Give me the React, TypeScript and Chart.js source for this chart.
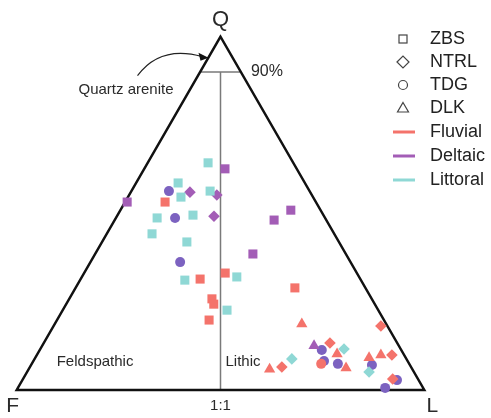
import React, { useEffect, useRef } from 'react';
import { Chart, registerables } from 'chart.js';
Chart.register(...registerables);

// Ternary data as [Q%, L%] pairs (F = 100 - Q - L)
const fluvialZBS = [[53.2, 9.8], [33.1, 34.6], [31.4, 29.3], [25.8, 35.0], [24.3, 36.2], [19.8, 37.3], [28.9, 53.8]];
const fluvialNTRL = [[13.3, 70.2], [6.5, 61.8], [18.1, 80.3], [9.9, 87.1], [3.1, 90.7]];
const fluvialTDG = [[7.4, 71.0]];
const fluvialDLK = [[18.7, 60.6], [10.2, 73.5], [6.2, 77.7], [5.9, 59.1], [9.1, 81.9], [9.9, 84.4]];
const deltaicZBS = [[62.6, 19.8], [53.2, 0.5], [38.5, 38.7], [50.9, 41.8], [48.1, 39.1]];
const deltaicNTRL = [[56.0, 14.5], [55.2, 21.5], [49.2, 23.8]];
const deltaicTDG = [[56.3, 9.2], [48.7, 14.5], [36.2, 22.0], [11.3, 69.2], [8.2, 71.3], [7.4, 75.1], [7.1, 83.6], [2.8, 91.9], [0.6, 90.1]];
const deltaicDLK = [[12.5, 66.7]];
const littoralZBS = [[64.3, 14.8], [58.6, 10.3], [54.6, 13.0], [56.3, 19.3], [48.7, 10.1], [49.5, 18.5], [44.2, 11.1], [41.9, 20.8], [31.1, 25.7], [32.0, 38.0], [22.6, 40.3]];
const littoralNTRL = [[8.8, 63.1], [11.6, 74.5], [5.1, 83.9]];

const formations = ['ZBS', 'NTRL', 'TDG', 'DLK'];
const environments = ['Fluvial', 'Deltaic', 'Littoral'];
const envColors = ['#F4736B', '#A35DB6', '#8FD8D5'];
const tdgDeltaicColor = '#7C62C0';

const H = Math.sqrt(3) / 2;
const toXY = (pairs: number[][]) => pairs.map(([q, l]) => ({ x: l + q / 2, y: q * H }));

const styleFor: Record<string, { pointStyle: any; pointRadius: number }> = {
  ZBS: { pointStyle: 'rect', pointRadius: 6.4 },
  NTRL: { pointStyle: 'rectRot', pointRadius: 5.8 },
  TDG: { pointStyle: 'circle', pointRadius: 5 },
  DLK: { pointStyle: 'triangle', pointRadius: 6.5 },
};

const FONT = '"Liberation Sans", Arial, sans-serif';

function mk(label: string, pairs: number[][], form: string, color: string) {
  return {
    label,
    data: toXY(pairs),
    backgroundColor: color,
    borderWidth: 0,
    pointBorderWidth: 0,
    pointHoverRadius: styleFor[form].pointRadius,
    showLine: false,
    clip: false as any,
    ...styleFor[form],
  };
}

const ternaryPlugin = {
  id: 'ternary',
  beforeDatasetsDraw(chart: any) {
    const { ctx, scales } = chart;
    const sx = scales.x, sy = scales.y;
    const P = (q: number, l: number) => [sx.getPixelForValue(l + q / 2), sy.getPixelForValue(q * H)];
    const [ax, ay] = P(100, 0);
    const [fx, fy] = P(0, 0);
    const [lx, ly] = P(0, 100);
    ctx.save();
    // 90% line and 1:1 line
    const [h1x, h1y] = P(90, 0);
    const [h2x, h2y] = P(90, 10);
    ctx.strokeStyle = '#7a7a7a';
    ctx.lineWidth = 1.5;
    ctx.beginPath();
    ctx.moveTo(h1x, h1y);
    ctx.lineTo(h2x, h2y);
    const [mx, my] = P(90, 5);
    const [bx, by] = P(0, 50);
    ctx.moveTo(mx, my);
    ctx.lineTo(bx, by);
    ctx.stroke();
    // triangle
    ctx.strokeStyle = '#111';
    ctx.lineWidth = 2.5;
    ctx.lineJoin = 'miter';
    ctx.beginPath();
    ctx.moveTo(ax, ay);
    ctx.lineTo(fx, fy);
    ctx.lineTo(lx, ly);
    ctx.closePath();
    ctx.stroke();
    // arrow
    const x0 = ax - 83, y0 = ay + 39;
    const x1 = ax - 12, y1 = ay + 21;
    ctx.strokeStyle = '#222';
    ctx.lineWidth = 1.2;
    ctx.beginPath();
    ctx.moveTo(x0, y0);
    ctx.quadraticCurveTo(ax - 60, ay + 8, x1 - 6, y1 - 1);
    ctx.stroke();
    ctx.fillStyle = '#111';
    ctx.beginPath();
    ctx.moveTo(x1, y1);
    ctx.lineTo(x1 - 10, y1 - 5);
    ctx.lineTo(x1 - 8, y1 + 3);
    ctx.closePath();
    ctx.fill();
    // texts
    ctx.fillStyle = '#2a2a2a';
    ctx.textBaseline = 'middle';
    ctx.textAlign = 'center';
    ctx.font = `22px ${FONT}`;
    ctx.fillText('Q', ax, ay - 17);
    ctx.font = `21px ${FONT}`;
    ctx.fillText('F', fx - 4, fy + 16);
    ctx.fillText('L', lx + 8, ly + 16);
    ctx.font = `15px ${FONT}`;
    ctx.fillText('1:1', bx, by + 16);
    ctx.textAlign = 'left';
    ctx.font = `16px ${FONT}`;
    ctx.fillText('90%', h2x + 10, h2y);
    ctx.font = `15px ${FONT}`;
    ctx.fillText('Quartz arenite', ax - 142, ay + 53);
    ctx.fillText('Feldspathic', fx + 40, fy - 28);
    ctx.fillText('Lithic', bx + 5, by - 28);
    ctx.restore();
  },
  afterDraw(chart: any) {
    const { ctx } = chart;
    ctx.save();
    const mxp = 403, tx = 430;
    const rows = [39, 62, 85, 108, 132, 156, 180];
    ctx.strokeStyle = '#444';
    ctx.lineWidth = 1.2;
    // square
    ctx.strokeRect(mxp - 4, rows[0] - 4, 8, 8);
    // diamond
    ctx.beginPath();
    ctx.moveTo(mxp - 6, rows[1]);
    ctx.lineTo(mxp, rows[1] - 6);
    ctx.lineTo(mxp + 6, rows[1]);
    ctx.lineTo(mxp, rows[1] + 6);
    ctx.closePath();
    ctx.stroke();
    // circle
    ctx.beginPath();
    ctx.arc(mxp, rows[2], 4.5, 0, Math.PI * 2);
    ctx.stroke();
    // triangle
    ctx.beginPath();
    ctx.moveTo(mxp, rows[3] - 5.5);
    ctx.lineTo(mxp + 5.5, rows[3] + 4);
    ctx.lineTo(mxp - 5.5, rows[3] + 4);
    ctx.closePath();
    ctx.stroke();
    ctx.lineWidth = 3;
    envColors.forEach((c, i) => {
      ctx.strokeStyle = c;
      ctx.beginPath();
      ctx.moveTo(393, rows[4 + i]);
      ctx.lineTo(415, rows[4 + i]);
      ctx.stroke();
    });
    ctx.fillStyle = '#222';
    ctx.textBaseline = 'middle';
    ctx.textAlign = 'left';
    ctx.font = `18px ${FONT}`;
    const labels = [...formations, ...environments];
    labels.forEach((t, i) => ctx.fillText(t, tx, rows[i]));
    ctx.restore();
  },
};

export default function App() {
  const ref = useRef<HTMLCanvasElement | null>(null);
  useEffect(() => {
    if (!ref.current) return;
    const chart = new Chart(ref.current, {
      type: 'scatter',
      data: {
        datasets: [
          mk('Fluvial ZBS', fluvialZBS, 'ZBS', envColors[0]),
          mk('Fluvial NTRL', fluvialNTRL, 'NTRL', envColors[0]),
          mk('Fluvial TDG', fluvialTDG, 'TDG', envColors[0]),
          mk('Fluvial DLK', fluvialDLK, 'DLK', envColors[0]),
          mk('Littoral ZBS', littoralZBS, 'ZBS', envColors[2]),
          mk('Littoral NTRL', littoralNTRL, 'NTRL', envColors[2]),
          mk('Deltaic ZBS', deltaicZBS, 'ZBS', envColors[1]),
          mk('Deltaic NTRL', deltaicNTRL, 'NTRL', envColors[1]),
          mk('Deltaic DLK', deltaicDLK, 'DLK', envColors[1]),
          mk('Deltaic TDG', deltaicTDG, 'TDG', tdgDeltaicColor),
        ] as any,
      },
      options: {
        responsive: false,
        animation: false,
        events: [],
        layout: { padding: { left: 16.7, right: 66.7, top: 36.7, bottom: 28 } },
        scales: {
          x: { type: 'linear', min: 0, max: 100, display: false },
          y: { type: 'linear', min: 0, max: 100 * H, display: false },
        },
        plugins: { legend: { display: false }, tooltip: { enabled: false } },
      },
      plugins: [ternaryPlugin],
    });
    return () => chart.destroy();
  }, []);
  return (
    <div style={{ position: 'absolute', left: 0, top: 0, width: 491, height: 418, background: '#fff' }}>
      <canvas ref={ref} width={491} height={418} style={{ display: 'block' }} />
    </div>
  );
}
